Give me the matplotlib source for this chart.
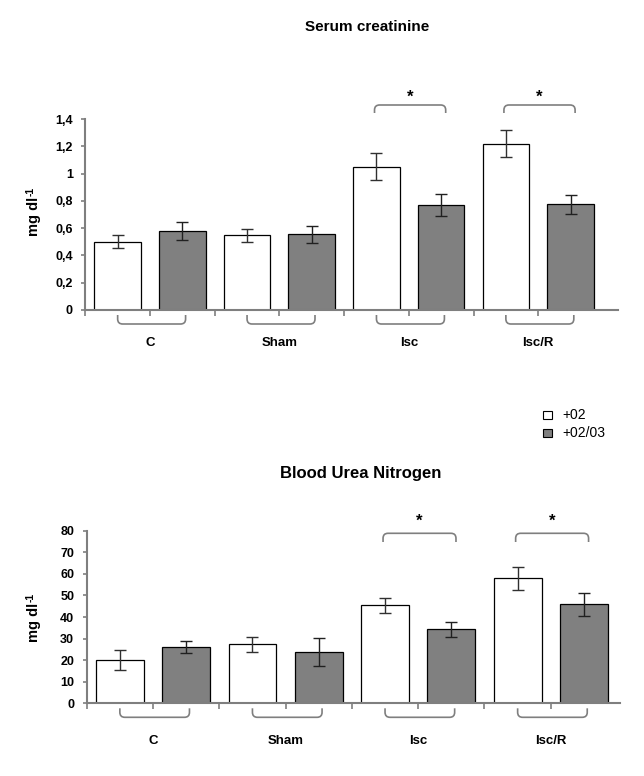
import matplotlib
matplotlib.use("Agg")
import matplotlib.pyplot as plt
from matplotlib.path import Path
from matplotlib.patches import PathPatch, Rectangle
import numpy as np

plt.rcParams['font.family'] = ['Liberation Sans', 'DejaVu Sans']

# ---------------- data ----------------
groups = ["C", "Sham", "Isc", "Isc/R"]
series = ["+02", "+02/03"]

creat_o2 = [0.50, 0.547, 1.05, 1.22]
creat_o2_err = [0.047, 0.05, 0.098, 0.10]
creat_o3 = [0.578, 0.556, 0.768, 0.776]
creat_o3_err = [0.068, 0.063, 0.08, 0.07]
creat_ticks = [0, 0.2, 0.4, 0.6, 0.8, 1.0, 1.2, 1.4]
creat_ticklabels = ["0", "0,2", "0,4", "0,6", "0,8", "1", "1,2", "1,4"]

bun_o2 = [20.0, 27.3, 45.4, 57.9]
bun_o2_err = [4.7, 3.3, 3.6, 5.2]
bun_o3 = [26.0, 23.7, 34.3, 45.8]
bun_o3_err = [2.9, 6.5, 3.4, 5.4]
bun_ticks = [0, 10, 20, 30, 40, 50, 60, 70, 80]
bun_ticklabels = ["0", "10", "20", "30", "40", "50", "60", "70", "80"]

significant = ["Isc", "Isc/R"]

W, H = 644, 776
fig = plt.figure(figsize=(W / 100, H / 100), dpi=100)

GRAY = "#808080"
SPINE = "#7f7f7f"


def add_axes_px(left, right, top, bottom):
    return fig.add_axes([left / W, (H - bottom) / H, (right - left) / W, (bottom - top) / H])


def bracket(ax, x0, x1, y_edge_px, y_line_px, r_px=5, color=SPINE, lw=1.2):
    """Rounded bracket; y given in pixels relative to the x axis (up positive)."""
    bb = ax.get_window_extent()
    xl = ax.get_xlim()
    yl = ax.get_ylim()
    pxx = bb.width / (xl[1] - xl[0])
    pxy = bb.height / (yl[1] - yl[0])
    ye = y_edge_px / pxy
    yline = y_line_px / pxy
    rx = r_px / pxx
    ry = np.sign(ye - yline) * r_px / pxy
    verts = [(x0, ye), (x0, yline + ry), (x0, yline), (x0 + rx, yline),
             (x1 - rx, yline), (x1, yline), (x1, yline + ry), (x1, ye)]
    codes = [Path.MOVETO, Path.LINETO, Path.CURVE3, Path.CURVE3,
             Path.LINETO, Path.CURVE3, Path.CURVE3, Path.LINETO]
    p = PathPatch(Path(verts, codes), facecolor="none", edgecolor=color,
                  lw=lw, clip_on=False, transform=ax.transData)
    ax.add_patch(p)


def panel(ax, o2, o2e, o3, o3e, ticks, ticklabels, ymax, xmax,
          sig_edge, sig_line, star_px, label_off_px):
    n = len(groups)
    x_o2 = np.arange(n) * 2
    x_o3 = np.arange(n) * 2 + 1
    width = 0.72
    ax.bar(x_o2, o2, width, color="white", edgecolor="black", linewidth=0.9, zorder=2)
    ax.bar(x_o3, o3, width, color=GRAY, edgecolor="black", linewidth=0.9, zorder=2)
    ax.errorbar(x_o2, o2, yerr=o2e, fmt="none", ecolor="#303030", elinewidth=1.0,
                capsize=4, capthick=1.0, zorder=3)
    ax.errorbar(x_o3, o3, yerr=o3e, fmt="none", ecolor="#202020", elinewidth=1.0,
                capsize=4, capthick=1.0, zorder=3)
    ax.set_xlim(-0.5, xmax)
    ax.set_ylim(0, ymax)
    for s in ["top", "right"]:
        ax.spines[s].set_visible(False)
    for s in ["left", "bottom"]:
        ax.spines[s].set_color(SPINE)
        ax.spines[s].set_linewidth(1.5)
    ax.set_yticks(ticks)
    ax.set_yticklabels(ticklabels, fontsize=9, fontweight="bold")
    ax.set_xticks(np.arange(-0.5, 2 * n - 1, 1.0))
    ax.set_xticklabels([])
    ax.tick_params(axis="both", direction="out", length=3, width=1.2, color=SPINE, pad=6)
    ax.tick_params(axis="x", length=4)

    for i, g in enumerate(groups):
        bracket(ax, x_o2[i], x_o3[i] + 0.05, -5, -14)
        ax.annotate(g, xy=(i * 2 + 0.5, 0), xycoords=("data", "axes fraction"),
                    xytext=(0, -label_off_px * 0.72), textcoords="offset points",
                    ha="center", va="center", fontsize=9.5, fontweight="bold")
        if g in significant:
            bracket(ax, x_o2[i] - 0.03, x_o3[i] + 0.07, sig_edge, sig_line)
            bb = ax.get_window_extent()
            pxy = bb.height / ymax
            ax.text(i * 2 + 0.52, star_px / pxy, "*", ha="center", va="center",
                    fontsize=12, fontweight="bold", clip_on=False)


ax1 = add_axes_px(85.3, 618, 119, 310)
ax2 = add_axes_px(86.7, 620, 530.7, 703.3)

panel(ax1, creat_o2, creat_o2_err, creat_o3, creat_o3_err, creat_ticks,
      creat_ticklabels, 1.4, 7.733, 197, 205, 213, 33)
panel(ax2, bun_o2, bun_o2_err, bun_o3, bun_o3_err, bun_ticks,
      bun_ticklabels, 80, 7.544, 161.3, 170, 182, 38)

# titles
fig.text(367 / W, 1 - 27 / H, "Serum creatinine", ha="center", va="center",
         fontsize=11, fontweight="bold")
fig.text(361 / W, 1 - 473 / H, "Blood Urea Nitrogen", ha="center", va="center",
         fontsize=12, fontweight="bold")

# y labels: "mg dl" with a raised "-1"
renderer = fig.canvas.get_renderer()
for ycen in (211, 617):
    t1 = fig.text(34 / W, 0.5, "mg dl", ha="center", va="center",
                  rotation=90, fontsize=10.5, fontweight="bold")
    t2 = fig.text(0, 0, "-1", ha="left", va="bottom", rotation=90,
                  fontsize=7.5, fontweight="bold")
    b1 = t1.get_window_extent(renderer)
    b2 = t2.get_window_extent(renderer)
    total = b1.height + b2.height + 1
    ymid_px = H - ycen  # display coords (origin bottom)
    y1_center = ymid_px - total / 2 + b1.height / 2
    t1.set_position((34 / W, y1_center / H))
    b1 = t1.get_window_extent(renderer)
    t2.set_position(((b1.x0 - 1) / W, (b1.y1 + 1) / H))

# legend
leg_colors = ["white", GRAY]
leg_y = [415, 433]
for lab, col, yy in zip(series, leg_colors, leg_y):
    fig.patches.append(Rectangle(
        (543 / W, 1 - (yy + 4) / H), 9 / W, 8 / H, transform=fig.transFigure,
        facecolor=col, edgecolor="black", linewidth=0.8))
    fig.text(562 / W, 1 - yy / H, lab, ha="left", va="center", fontsize=10)

fig.savefig("out.png", dpi=100)
